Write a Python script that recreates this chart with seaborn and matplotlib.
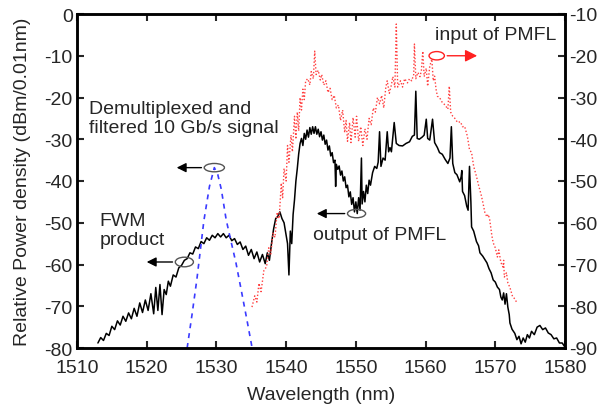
import numpy as np
import pandas as pd
import matplotlib
matplotlib.use('Agg')
import matplotlib.pyplot as plt
from matplotlib.patches import Ellipse
import seaborn as sns

# output of PMFL (black, left axis)
out_wl = [1513.0, 1513.4, 1513.8, 1514.2, 1514.6, 1515.0, 1515.4, 1515.8, 1516.2, 1516.6,
          1517.0, 1517.4, 1517.8, 1518.2, 1518.6, 1519.0, 1519.4, 1519.8, 1520.2, 1520.6,
          1521.0, 1521.3, 1521.6, 1521.9, 1522.2, 1522.5, 1522.8, 1523.1, 1523.4, 1523.8,
          1524.2, 1524.6, 1525.0, 1525.4, 1525.8, 1526.2, 1526.6, 1527.0, 1527.4, 1527.8,
          1528.2, 1528.6, 1529.0, 1529.4, 1529.8, 1530.2, 1530.6, 1531.0, 1531.4, 1531.8,
          1532.2, 1532.6, 1533.0, 1533.4, 1533.8, 1534.2, 1534.6, 1535.0, 1535.4, 1535.8,
          1536.2, 1536.6, 1537.0, 1537.3, 1537.6, 1537.9, 1538.2, 1538.5, 1538.8, 1539.1,
          1539.4, 1539.7, 1540.0, 1540.2, 1540.4, 1540.6, 1540.8, 1541.0, 1541.2, 1541.4,
          1541.6, 1541.8, 1542.0, 1542.2, 1542.4, 1542.6, 1542.8, 1543.0, 1543.2, 1543.4,
          1543.6, 1543.8, 1544.0, 1544.2, 1544.4, 1544.6, 1544.8, 1545.0, 1545.2, 1545.4,
          1545.6, 1545.8, 1546.0, 1546.2, 1546.4, 1546.6, 1546.8, 1547.0, 1547.1, 1547.2,
          1547.4, 1547.6, 1547.8, 1548.0, 1548.2, 1548.4, 1548.6, 1548.8, 1549.0, 1549.2,
          1549.4, 1549.6, 1549.8, 1550.0, 1550.2, 1550.4, 1550.6, 1550.8, 1550.9, 1551.1,
          1551.3, 1551.5, 1551.7, 1551.9, 1552.1, 1552.4, 1552.7, 1553.0, 1553.2, 1553.4,
          1553.6, 1553.9, 1554.2, 1554.5, 1554.7, 1554.9, 1555.1, 1555.5, 1555.8, 1556.2,
          1556.7, 1557.2, 1557.7, 1558.1, 1558.4, 1558.6, 1558.8, 1559.1, 1559.5, 1559.8,
          1560.1, 1560.3, 1560.6, 1561.0, 1561.3, 1561.7, 1562.0, 1562.4, 1562.8, 1563.2,
          1563.5, 1563.7, 1563.9, 1564.2, 1564.5, 1564.9, 1565.1, 1565.2, 1565.3, 1565.6,
          1565.9, 1566.1, 1566.3, 1566.5, 1566.6, 1566.9, 1567.3, 1567.6, 1567.8, 1568.2,
          1568.5, 1568.8, 1569.1, 1569.4, 1569.7, 1570.0, 1570.3, 1570.6, 1570.8, 1571.0,
          1571.2, 1571.4, 1571.6, 1571.8, 1572.0, 1572.1, 1572.4, 1572.8, 1573.1, 1573.4,
          1573.7, 1574.0, 1574.3, 1574.6, 1574.9, 1575.2, 1575.6, 1576.0, 1576.4, 1576.8,
          1577.2, 1577.6, 1578.0, 1578.4, 1578.8, 1579.2, 1579.6, 1580.0]
out_db = [-78.8, -77.5, -78.2, -76.5, -77.0, -74.8, -75.6, -73.5, -74.5, -72.4,
          -73.6, -71.6, -73.0, -70.5, -72.4, -69.2, -71.5, -68.5, -71.0, -67.0,
          -71.8, -65.5, -71.0, -64.8, -72.0, -66.0, -67.2, -64.0, -65.2, -62.5,
          -63.0, -60.8, -60.2, -59.0, -58.6, -57.2, -57.5, -55.8, -56.2, -54.5,
          -55.0, -53.6, -54.2, -53.0, -53.6, -52.6, -53.4, -52.6, -53.6, -53.0,
          -54.3, -53.8, -55.2, -54.6, -56.4, -55.6, -57.8, -56.4, -58.6, -57.0,
          -59.4, -57.6, -59.8, -57.2, -59.0, -55.0, -51.5, -49.0, -48.5, -47.4,
          -49.0, -50.0, -53.0, -55.0, -62.5, -52.0, -55.0, -48.0, -44.5, -40.0,
          -37.0, -33.5, -31.0, -29.8, -31.5, -28.6, -30.0, -27.8, -29.5, -27.2,
          -28.8, -27.0, -28.6, -27.0, -28.8, -27.6, -29.4, -28.2, -30.2, -29.0,
          -31.2, -30.2, -32.6, -31.6, -34.0, -33.2, -35.6, -35.0, -41.3, -36.0,
          -37.2, -36.4, -38.6, -37.6, -40.0, -39.0, -41.6, -41.0, -43.8, -42.6,
          -45.6, -44.0, -47.4, -45.0, -47.8, -44.0, -47.0, -34.5, -45.5, -42.5,
          -45.0, -41.0, -43.0, -39.8, -41.0, -38.0, -36.5, -37.0, -35.5, -28.2,
          -36.5, -34.5, -35.0, -28.2, -33.0, -32.0, -33.0, -26.0, -31.0, -31.5,
          -31.6, -31.0, -30.6, -29.3, -29.0, -18.5, -29.8, -30.0, -29.5, -29.0,
          -25.2, -29.8, -30.2, -25.2, -30.8, -32.0, -33.2, -33.6, -34.8, -35.8,
          -34.5, -27.0, -35.8, -38.0, -38.5, -40.2, -39.0, -37.5, -42.5, -43.5,
          -46.0, -47.0, -36.5, -45.0, -51.0, -52.0, -54.5, -55.5, -57.2, -58.0,
          -58.8, -59.6, -61.0, -62.0, -63.7, -64.2, -65.4, -66.0, -67.8, -68.5,
          -66.8, -69.5, -67.0, -70.2, -72.0, -74.0, -75.5, -76.5, -78.0, -77.2,
          -79.0, -77.6, -78.6, -76.8, -77.6, -76.0, -76.8, -75.0, -74.6, -75.6,
          -75.2, -76.4, -76.8, -77.8, -77.6, -78.8, -78.8, -79.8]

# input of PMFL (red dotted, right axis)
in_wl = [1535.1, 1535.5, 1535.8, 1536.1, 1536.4, 1536.8, 1537.2, 1537.5, 1537.8, 1538.1,
         1538.4, 1538.7, 1539.0, 1539.3, 1539.5, 1539.7, 1540.0, 1540.2, 1540.4, 1540.7,
         1540.9, 1541.2, 1541.4, 1541.6, 1541.8, 1542.0, 1542.2, 1542.4, 1542.6, 1542.8,
         1543.1, 1543.4, 1543.6, 1543.9, 1544.1, 1544.3, 1544.6, 1544.9, 1545.1, 1545.4,
         1545.7, 1546.0, 1546.3, 1546.6, 1546.9, 1547.2, 1547.5, 1547.8, 1548.1, 1548.4,
         1548.6, 1548.8, 1549.1, 1549.3, 1549.6, 1549.9, 1550.1, 1550.4, 1550.7, 1551.0,
         1551.3, 1551.6, 1551.9, 1552.2, 1552.5, 1552.8, 1553.1, 1553.4, 1553.7, 1554.0,
         1554.3, 1554.5, 1554.8, 1555.1, 1555.3, 1555.6, 1555.8, 1556.0, 1556.4, 1556.7,
         1557.0, 1557.4, 1557.7, 1558.0, 1558.3, 1558.4, 1558.6, 1558.9, 1559.2, 1559.4,
         1559.6, 1559.8, 1560.1, 1560.3, 1560.6, 1560.9, 1561.1, 1561.3, 1561.5, 1561.7,
         1562.0, 1562.4, 1562.8, 1563.2, 1563.4, 1563.6, 1563.9, 1564.2, 1564.6, 1565.0,
         1565.3, 1565.6, 1566.0, 1566.3, 1566.6, 1566.9, 1567.3, 1567.6, 1568.0, 1568.2,
         1568.5, 1568.8, 1569.0, 1569.2, 1569.5, 1569.7, 1570.0, 1570.3, 1570.5, 1570.8,
         1571.1, 1571.2, 1571.3, 1571.6, 1571.8, 1572.1, 1572.5, 1572.8, 1573.1]
in_db = [-80.2, -77.5, -79.0, -74.5, -76.5, -71.5, -70.5, -66.0, -67.5, -62.5,
         -63.5, -57.5, -59.0, -50.5, -54.0, -47.0, -50.0, -41.5, -45.5, -39.0,
         -43.0, -34.5, -40.0, -33.5, -38.0, -30.0, -33.0, -28.0, -30.5, -26.0,
         -25.5, -27.0, -23.8, -25.5, -18.9, -24.5, -23.5, -25.8, -24.5, -27.0,
         -26.0, -28.8, -27.8, -30.5, -29.5, -32.5, -31.8, -35.5, -33.0, -38.4,
         -35.5, -40.5, -36.0, -40.8, -34.8, -39.5, -34.5, -40.5, -37.0, -41.5,
         -37.5, -40.0, -35.0, -36.5, -32.5, -33.5, -30.0, -31.5, -29.5, -32.5,
         -27.5, -26.0, -29.0, -27.0, -25.0, -27.5, -12.4, -27.5, -26.0, -27.5,
         -25.5, -26.5, -25.5, -26.0, -24.5, -17.2, -25.5, -24.0, -25.0, -23.5,
         -18.9, -25.0, -23.0, -27.3, -22.5, -20.8, -26.0, -24.9, -28.0, -29.7,
         -30.0, -31.2, -31.8, -32.8, -27.3, -33.5, -34.5, -35.0, -36.0, -35.8,
         -37.0, -36.9, -39.3, -42.5, -43.2, -46.5, -48.9, -51.0, -53.5, -55.0,
         -57.5, -58.6, -58.0, -59.3, -63.0, -64.8, -66.0, -68.2, -66.5, -69.5,
         -70.6, -69.0, -73.0, -72.0, -74.4, -75.5, -77.8, -78.2, -79.2]

# demultiplexed and filtered 10 Gb/s signal (blue dashed, left axis)
sig_wl = [1525.8, 1526.5, 1527.2, 1528.2, 1529.0, 1529.7, 1530.2, 1530.7, 1531.4, 1532.1,
          1532.8, 1533.6, 1534.4, 1535.1]
sig_db = [-80.0, -72.0, -63.5, -49.5, -41.3, -36.8, -38.5, -42.0, -49.3, -54.5,
          -59.6, -66.5, -73.5, -79.8]

x_ticks = [1510, 1520, 1530, 1540, 1550, 1560, 1570, 1580]
left_ticks = [0, -10, -20, -30, -40, -50, -60, -70, -80]
right_ticks = [-10, -20, -30, -40, -50, -60, -70, -80, -90]

sns.set_theme(style='ticks')
plt.rcParams['font.family'] = ['Liberation Sans', 'DejaVu Sans']
plt.rcParams['axes.unicode_minus'] = False

df_out = pd.DataFrame({'wl': out_wl, 'db': out_db})
df_in = pd.DataFrame({'wl': in_wl, 'db': in_db})
df_sig = pd.DataFrame({'wl': sig_wl, 'db': sig_db})

fig = plt.figure(figsize=(6.03, 4.10), dpi=100)
ax = fig.add_axes([77 / 603, 1 - 349 / 410, 488 / 603, 334 / 410])
ax2 = ax.twinx()

sns.lineplot(data=df_out, x='wl', y='db', ax=ax, color='black', lw=1.1,
             sort=False, estimator=None)
sns.lineplot(data=df_sig, x='wl', y='db', ax=ax, color='#3a3aff', lw=1.2,
             linestyle=(0, (3, 3)), sort=False, estimator=None)
sns.lineplot(data=df_in, x='wl', y='db', ax=ax2, color='#ff4040', lw=1.0,
             linestyle=(0, (1, 1.5)), sort=False, estimator=None)

ax.set_xlim(1510, 1580)
ax.set_ylim(-80, 0)
ax2.set_ylim(-90, -10)
ax.set_xticks(x_ticks)
ax.set_yticks(left_ticks)
ax2.set_yticks(right_ticks)
ax.set_xlabel('Wavelength (nm)', fontsize=14, labelpad=7)
ax.set_ylabel('Relative Power density (dBm/0.01nm)', fontsize=14, labelpad=10)
ax2.set_ylabel('')
ax.tick_params(axis='x', direction='in', length=5, width=1.5, labelsize=14,
               top=True, pad=8)
ax.tick_params(axis='y', direction='in', length=5, width=1.5, labelsize=14, pad=3)
ax2.tick_params(axis='y', direction='in', length=5, width=1.5, labelsize=14, pad=3)
for a in (ax, ax2):
    for s in a.spines.values():
        s.set_linewidth(1.8)
        s.set_color('black')

# annotations
ax.text(1511.7, -24.9, 'Demultiplexed and\nfiltered 10 Gb/s signal', fontsize=14,
        va='center', ha='left', linespacing=1.2)
ax.text(1513.2, -51.7, 'FWM\nproduct', fontsize=14, va='center', ha='left',
        linespacing=1.2)
ax.text(1543.8, -52.9, 'output of PMFL', fontsize=14, va='center', ha='left')
ax.text(1561.3, -4.8, 'input of PMFL', fontsize=14, va='center', ha='left')

ell_kw = dict(facecolor='none', lw=1.0, zorder=5)
ax.add_patch(Ellipse((1529.7, -36.8), 2.9, 2.0, edgecolor='#555555', **ell_kw))
ax.add_patch(Ellipse((1525.4, -59.4), 2.6, 2.3, edgecolor='#555555', **ell_kw))
ax.add_patch(Ellipse((1550.1, -47.8), 2.6, 2.0, edgecolor='#555555', **ell_kw))
ax.add_patch(Ellipse((1561.6, -10.0), 2.2, 2.0, edgecolor='#ff2020', **ell_kw))

arr_k = dict(arrowstyle='-|>', color='black', lw=1.0, mutation_scale=14)
ax.annotate('', xy=(1523.9, -36.8), xytext=(1528.25, -36.8), arrowprops=arr_k)
ax.annotate('', xy=(1519.6, -59.4), xytext=(1524.1, -59.4), arrowprops=arr_k)
ax.annotate('', xy=(1544.0, -47.8), xytext=(1548.8, -47.8), arrowprops=arr_k)
arr_r = dict(arrowstyle='-|>', color='#ff2020', lw=1.0, mutation_scale=18)
ax.annotate('', xy=(1567.8, -10.0), xytext=(1562.7, -10.0), arrowprops=arr_r)

fig.savefig('out.png', dpi=100)
